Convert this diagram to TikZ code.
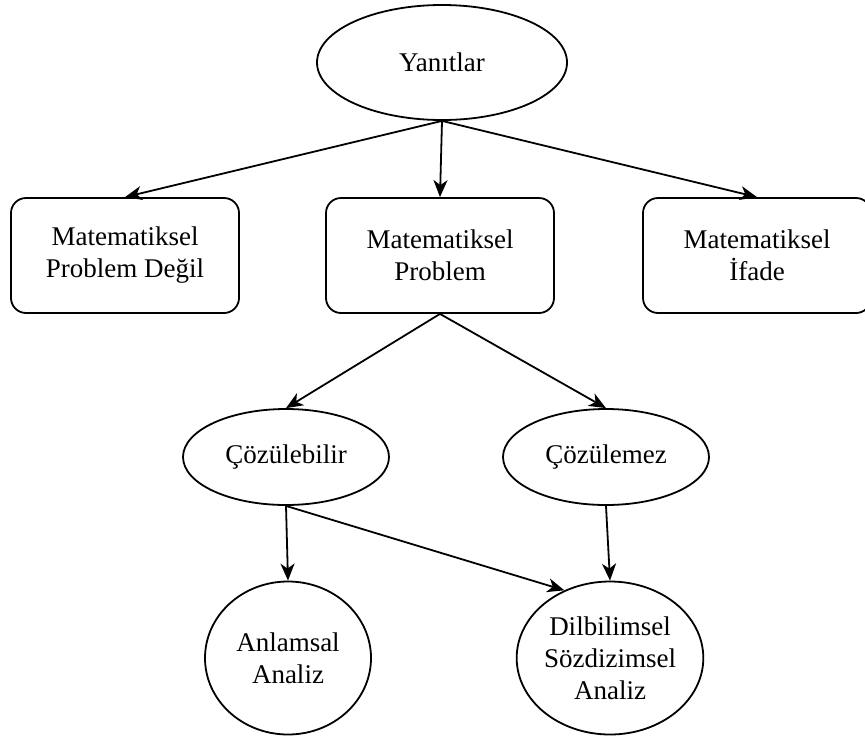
\documentclass[tikz,border=0pt]{standalone}
\usepackage{fontspec}
\setmainfont{Liberation Serif}
\usetikzlibrary{shapes.geometric,arrows.meta}
\begin{document}
\begin{tikzpicture}[x=1pt,y=-1pt,
  line width=1.8pt,
  kutu/.style={draw,rounded corners=15pt,minimum width=228pt,minimum height=115pt,
    align=center,font=\fontsize{27}{32}\selectfont},
  elips/.style={draw,ellipse,inner sep=0pt,align=center,font=\fontsize{27}{32}\selectfont},
  ok/.style={-{Stealth[length=17pt,width=14pt,inset=5pt]}}]
\useasboundingbox (0,0) rectangle (865,740);
\node[elips,minimum width=250pt,minimum height=115pt] (yan) at (442,62.5) {Yanıtlar};
\node[kutu] (mpd) at (125,255.5) {Matematiksel\\Problem Değil};
\node[kutu] (mp) at (440,255.5) {Matematiksel\\Problem};
\node[kutu] (mi) at (757,255.5) {Matematiksel\\İfade};
\draw[ok] (yan.south) -- (mpd.north);
\draw[ok] (yan.south) -- (mp.north);
\draw[ok] (yan.south) -- (mi.north);
\node[elips,minimum width=206pt,minimum height=96pt] (cb) at (286,457) {Çözülebilir};
\node[elips,minimum width=206pt,minimum height=96pt] (cm) at (606,457) {Çözülemez};
\draw[ok] (mp.south) -- (cb.north);
\draw[ok] (mp.south) -- (cm.north);
\node[elips,minimum width=166pt,minimum height=153pt] (an) at (288,658) {Anlamsal\\Analiz};
\node[elips,minimum width=170pt,minimum height=153pt] (dil) at (610,658) {Dilbilimsel\\Sözdizimsel\\Analiz};
\draw[ok] (cb.south) -- (an.north);
\draw[ok] (cb.south) -- (dil.124);
\draw[ok] (cm.south) -- (dil.north);
\end{tikzpicture}
\end{document}
